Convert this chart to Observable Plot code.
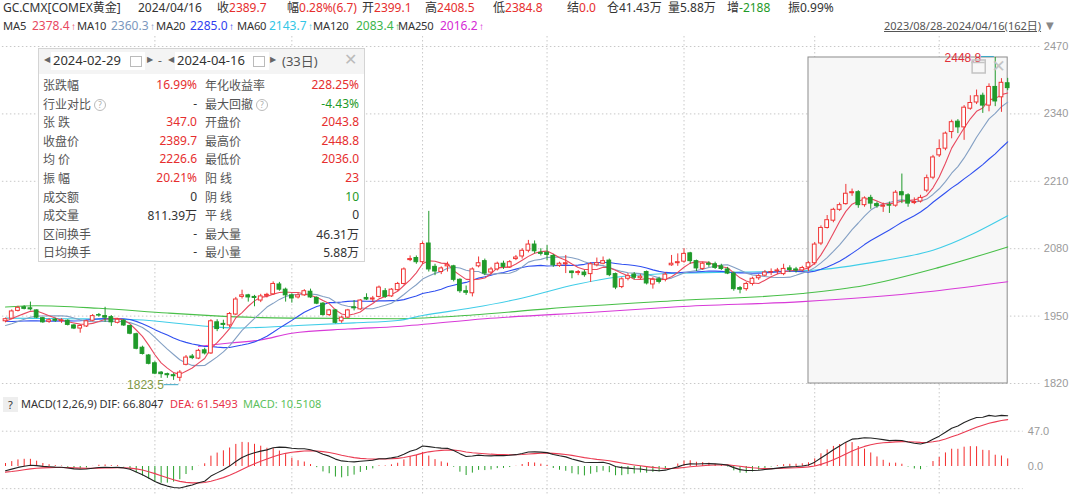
<!DOCTYPE html>
<html><head><meta charset="utf-8">
<script src="https://cdn.jsdelivr.net/npm/d3@7"></script>
<script src="https://cdn.jsdelivr.net/npm/@observablehq/plot@0.6"></script>
<style>
body{margin:0;width:1080px;height:494px;overflow:hidden;background:#fff;font-family:"Noto Sans","Noto Sans CJK SC",sans-serif;font-size:12px;color:#333;position:relative}
.t{position:absolute;white-space:nowrap;line-height:16px}
.ma{font-size:11.2px;letter-spacing:-0.2px}
.r{color:#e62e2e}.g{color:#1e9a28}.k{color:#333}
.up{display:inline-block;width:6px;margin-left:1px;text-align:center;font-size:10px;font-family:"Liberation Sans",sans-serif}
#main,#macd{position:absolute;left:0}
#main{top:36px}#macd{top:392px}
#panel{position:absolute;left:38px;top:48px;width:325px;height:212px;border:1px solid #d4d4d4;background:#fff;font-size:12px}
#panel .lab{position:absolute;color:#555;white-space:nowrap}
#panel .val{position:absolute;text-align:right;white-space:nowrap}
.q{display:inline-block;width:10px;height:10px;border:1px solid #bbb;border-radius:50%;font-size:8px;line-height:10px;text-align:center;color:#aaa;vertical-align:1px;margin-left:3px}
</style></head><body>
<div id="main"></div>
<div id="macd"></div>

<!-- header line 1 -->
<div class="t" style="left:3px;top:0">GC.CMX[COMEX黄金]</div>
<div class="t" style="left:138px;top:0">2024/04/16</div>
<div class="t" style="left:217px;top:0">收<span class="r">2389.7</span></div>
<div class="t" style="left:287px;top:0">幅<span class="r">0.28%(6.7)</span></div>
<div class="t" style="left:362px;top:0">开<span class="r">2399.1</span></div>
<div class="t" style="left:425px;top:0">高<span class="r">2408.5</span></div>
<div class="t" style="left:493px;top:0">低<span class="r">2384.8</span></div>
<div class="t" style="left:567px;top:0">结<span class="r">0.0</span></div>
<div class="t" style="left:607px;top:0">仓41.43万</div>
<div class="t" style="left:668px;top:0">量5.88万</div>
<div class="t" style="left:727px;top:0">增<span class="g">-2188</span></div>
<div class="t" style="left:788px;top:0">振0.99%</div>
<!-- header line 2 -->
<div class="t ma" style="left:3px;top:18px">MA5</div><div class="t" style="left:32px;top:18px;color:#e8495f">2378.4<span class="up">↑</span></div>
<div class="t ma" style="left:77px;top:18px">MA10</div><div class="t" style="left:111px;top:18px;color:#7b97bd">2360.3<span class="up">↑</span></div>
<div class="t ma" style="left:156px;top:18px">MA20</div><div class="t" style="left:190px;top:18px;color:#2f3ff0">2285.0<span class="up">↑</span></div>
<div class="t ma" style="left:237px;top:18px">MA60</div><div class="t" style="left:269px;top:18px;color:#33c6e6">2143.7<span class="up">↑</span></div>
<div class="t ma" style="left:313px;top:18px">MA120</div><div class="t" style="left:356px;top:18px;color:#3cb54a">2083.4<span class="up">↑</span></div>
<div class="t ma" style="left:398px;top:18px">MA250</div><div class="t" style="left:440px;top:18px;color:#d52ad5">2016.2<span class="up">↑</span></div>
<div class="t" style="left:884px;top:18px;color:#555;text-decoration:underline;font-size:11px">2023/08/28-2024/04/16(162日)</div>
<div class="t" style="left:1046px;top:18px;color:#888;font-size:10px;font-family:'DejaVu Sans',sans-serif">▼</div>

<!-- MACD header -->
<div class="t" style="left:3px;top:397px;width:15px;height:15px;line-height:15px;background:#eee;text-align:center;font-size:11px">?</div>
<div class="t" style="left:21px;top:396px;font-size:11px">MACD(12,26,9) DIF: 66.8047</div>
<div class="t" style="left:170px;top:396px;font-size:11px;color:#e8334a">DEA: 61.5493</div>
<div class="t" style="left:243px;top:396px;font-size:11px;color:#5cbf5c">MACD: 10.5108</div>

<!-- stats panel -->
<div id="panel">
  <div style="position:absolute;left:0;top:0;width:325px;height:25px;background:#f4f4f4"></div>
  <div class="lab" style="left:5px;top:6px;color:#666;font-size:8px;font-family:'DejaVu Sans',sans-serif">◀</div>
  <div class="lab" style="left:12px;top:3px;width:94px;height:18px;background:#fff"></div>
  <div class="lab" style="left:14px;top:2px;color:#333;font-size:13px">2024-02-29</div>
  <div class="lab" style="left:91px;top:7px;width:10px;height:9px;border:1px solid #bbb"></div>
  <div class="lab" style="left:108px;top:6px;color:#666;font-size:8px;font-family:'DejaVu Sans',sans-serif">▶</div>
  <div class="lab" style="left:119px;top:3px;color:#666">-</div>
  <div class="lab" style="left:129px;top:6px;color:#666;font-size:8px;font-family:'DejaVu Sans',sans-serif">◀</div>
  <div class="lab" style="left:136px;top:3px;width:94px;height:18px;background:#fff"></div>
  <div class="lab" style="left:138px;top:2px;color:#333;font-size:13px">2024-04-16</div>
  <div class="lab" style="left:214px;top:7px;width:10px;height:9px;border:1px solid #bbb"></div>
  <div class="lab" style="left:231px;top:6px;color:#666;font-size:8px;font-family:'DejaVu Sans',sans-serif">▶</div>
  <div class="lab" style="left:243px;top:2px;color:#555;font-size:13px">(33日)</div>
  <div class="lab" style="left:305px;top:1px;color:#bbb;font-size:16px;font-family:'DejaVu Sans',sans-serif">✕</div>
  <div id="rows"></div>
</div>

<script>
// ---------------- data ----------------
const opens = [
1940,1945,1960,1967,1965,1961,1946,1939,1943,1940,
1941,1932,1926,1930,1941,1952,1950,1948,1937,1941,
1931,1915,1889,1874,1859,1841,1838,1836,1831,1856,
1872,1868,1884,1878,1938,1935,1932,1953,1987,1990,
1987,1980,1989,1992,2011,2001,1990,1986,1990,1997,
1985,1974,1952,1961,1940,1947,1967,1963,1985,1982,
1987,1998,1988,2000,2012,2058,2062,2054,2090,2045,
2035,2046,2046,2020,1998,1994,2046,2056,2034,2040,
2051,2044,2060,2065,2076,2088,2072,2072,2066,2047,
2050,2036,2033,2034,2031,2048,2051,2057,2031,2006,
2022,2030,2023,2035,2011,2021,2020,2048,2052,2055,
2071,2056,2041,2051,2050,2046,2040,2032,2004,2002,
2012,2023,2028,2034,2036,2031,2042,2040,2038,2043.8,
2052,2090,2120,2134,2155,2166,2187,2189,2164,2178,
2166,2161,2164,2163,2189,2183,2168,2171,2192,2217,
2260,2273,2305,2325,2314,2350,2362,2375,2356,2392,
2372,2399.1];
const highs = [
1946,1962,1969,1970,1977,1962,1947,1945,1946,1945,
1943,1934,1933,1942,1953,1955,1967,1951,1945,1943,
1932,1917,1892,1876,1862,1843,1840,1839,1845,1874,
1876,1886,1888,1943,1943,1942,1957,1986,2000,1992,
1990,1992,1994,2016,2015,2004,1993,1994,2001,2002,
1987,1976,1963,1963,1950,1963,1980,1982,1993,1988,
2008,2003,2003,2015,2043,2066,2066,2093,2152,2050,
2045,2054,2048,2022,2008,2043,2064,2060,2044,2054,
2056,2057,2067,2080,2096,2095,2080,2086,2069,2054,
2067,2037,2038,2038,2053,2062,2064,2060,2033,2024,
2032,2034,2030,2037,2024,2025,2034,2067,2070,2080,
2073,2058,2054,2055,2054,2050,2044,2035,2007,2015,
2025,2030,2038,2041,2042,2050,2047,2044,2046,2055,
2092,2124,2144,2158,2168,2204,2195,2192,2180,2183,
2170,2168,2170,2192,2224,2186,2178,2183,2222,2260,
2290,2305,2328,2329,2356,2375,2386,2380,2398,2448.8,
2408,2408.5];
const lows = [
1937,1943,1958,1962,1960,1945,1936,1936,1938,1936,
1931,1924,1917,1928,1939,1948,1938,1930,1935,1930,
1914,1885,1875,1856,1837,1830,1830,1826,1823.5,1854,
1866,1866,1875,1876,1920,1924,1928,1951,1983,1977,
1968,1976,1985,1990,1998,1977,1975,1983,1988,1984,
1972,1950,1949,1935,1936,1945,1960,1961,1980,1976,
1985,1984,1986,1998,2010,2055,2050,2050,2035,2028,
2030,2035,2016,1994,1990,1987,2043,2028,2030,2037,
2040,2042,2057,2060,2072,2070,2066,2057,2044,2044,
2032,2022,2028,2025,2015,2045,2049,2026,2001,2003,
2018,2020,2020,2010,2002,2012,2016,2046,2046,2052,
2050,2036,2038,2044,2040,2038,2030,1998,1993,1998,
2008,2019,2026,2028,2030,2028,2034,2033,2035,2036,
2048,2086,2118,2130,2152,2164,2181,2158,2160,2156,
2158,2150,2148,2160,2167,2160,2165,2168,2188,2213,
2256,2269,2292,2302,2289,2347,2358,2341,2344,2354,
2343,2384.8];
const closes = [
1944,1959,1966,1964,1963,1947,1938,1942,1941,1942,
1933,1926,1931,1940,1950,1951,1947,1938,1943,1932,
1916,1887,1877,1858,1839,1838,1836,1834,1841,1870,
1869,1883,1878,1940,1925,1933,1954,1982,1990,1986,
1985,1988,1991,2012,2001,1990,1984,1990,1998,1986,
1974,1952,1961,1937,1947,1961,1965,1980,1982,1984,
2005,1987,2001,2012,2040,2060,2054,2089,2040,2036,
2042,2049,2020,1998,1995,2040,2052,2032,2040,2051,
2045,2054,2063,2076,2088,2075,2070,2068,2048,2051,
2052,2033,2035,2029,2050,2052,2056,2029,2005,2021,
2027,2024,2026,2013,2020,2016,2030,2051,2054,2070,
2056,2042,2051,2049,2043,2041,2032,2002,2001,2012,
2022,2027,2034,2035,2038,2041,2039,2038,2042.7,2052,
2088,2120,2135,2155,2164,2186,2189,2164,2177,2167,
2162,2163,2163,2188,2183,2167,2170,2178,2216,2256,
2272,2302,2324,2314,2352,2361,2374,2356,2392,2364,
2400,2389.7];
// closes before the window (needed for MA5/10/20 and MACD at the left edge)
const priorCloses = [1965,1960,1955,1952,1950,1946,1944,1940,1936,1932,1928,1922,1918,1925,1927,1935,1938,1942,1941];
// long moving averages
const ma60Idx = [0,10,21,31,37,47,56,63,67,75,82,92,98,108,118,129,141,149,161];
const ma60Val = [1946,1945,1943,1932,1927,1932,1937,1941.5,1951,1966,1982,2012,2025,2032.7,2035,2038,2057,2077,2143.7];
const ma120Idx = [0,5,15,26,33,41,47,63,75,87,108,128,138,150,161];
const ma120Val = [1967.5,1970,1965,1956,1951,1947,1946,1945,1952,1964,1980,1993.5,2009,2044,2083.4];
const ma250Idx = [31,36,41,46,55,63,77,95,108,128,138,149,161];
const ma250Val = [1891.5,1898,1904,1917,1925,1930,1945,1958,1968,1978,1986,1998,2016.2];
const monthStarts = [24,46,67,87,109,130,150];
const priceTicks = [1820,1950,2080,2210,2340,2470];
const macdTicks = [0,47];
const selStart = 129, selEnd = 161;
const statsLeft = [["张跌幅","16.99%","r"],["行业对比?","-","k"],["张 跌","347.0","r"],["收盘价","2389.7","r"],["均 价","2226.6","r"],["振 幅","20.21%","r"],["成交额","0","k"],["成交量","811.39万","k"],["区间换手","-","k"],["日均换手","-","k"]];
const statsRight = [["年化收益率","228.25%","r"],["最大回撤?","-4.43%","g"],["开盘价","2043.8","r"],["最高价","2448.8","r"],["最低价","2036.0","r"],["阳 线","23","r"],["阴 线","10","g"],["平 线","0","k"],["最大量","46.31万","k"],["最小量","5.88万","k"]];

// ---------------- derived ----------------
const RED = "#f03434", GREEN = "#1f9a2a";
const N = closes.length;
const candles = d3.range(N).map(i => ({i, o: opens[i], h: highs[i], l: lows[i], c: closes[i], up: closes[i] >= opens[i]}));
const all = priorCloses.concat(closes), P = priorCloses.length;
const sma = n => d3.range(N).map(i => ({i, v: d3.mean(all.slice(P + i - n + 1, P + i + 1))}));
const pts = (idx, val) => idx.map((i, k) => ({i, v: val[k]}));
function ema(arr, n) { const a = 2 / (n + 1); const out = []; let e = arr[0]; arr.forEach((v, k) => { e = k === 0 ? v : a * v + (1 - a) * e; out.push(e); }); return out; }
const e12 = ema(all, 12), e26 = ema(all, 26);
const difAll = all.map((_, k) => e12[k] - e26[k]);
const deaAll = ema(difAll, 9);
const macd = d3.range(N).map(i => { const dif = difAll[P + i], dea = deaAll[P + i]; return {i, dif, dea, h: 2 * (dif - dea)}; });
const maxIdx = d3.maxIndex(highs), minIdx = d3.minIndex(lows);
const hiPt = {i: maxIdx, v: highs[maxIdx]}, loPt = {i: minIdx, v: lows[minIdx]};
const sel = {x1: selStart, x2: selEnd, top: d3.max(highs.slice(selStart, selEnd + 1))};

const ML = 1.9, MR = 69.7, XD = [-0.5, N - 0.5];
const grid = {stroke: "#c8c8c8", strokeDasharray: "1.5,2.5", strokeWidth: 1};
const FONT = "'Liberation Sans', 'Noto Sans CJK SC', sans-serif";

const mainPlot = Plot.plot({
  width: 1080, height: 356, marginTop: 0, marginBottom: 0, marginLeft: ML, marginRight: MR,
  x: {domain: XD, axis: null},
  y: {domain: [1820, 2470], range: [347, 10], axis: null},
  style: {background: "transparent", overflow: "visible", fontFamily: FONT},
  marks: [
    Plot.ruleY(priceTicks, {y: d => d, x1: XD[0], x2: N + 4.5, ...grid}),
    Plot.ruleX(monthStarts, {x: d => d, ...grid}),
    Plot.rect([sel], {x1: "x1", x2: "x2", y1: 1820, y2: "top", fill: "#f7f7f7", stroke: "#8c8c8c", strokeWidth: 1}),
    Plot.axisY(priceTicks, {anchor: "right", tickSize: 0, tickPadding: 33, textAnchor: "start", fill: "#9a9a9a", fontSize: 11, tickFormat: d => `${d}`}),
    Plot.line(pts(ma250Idx, ma250Val), {x: "i", y: "v", stroke: "#d83ad8", strokeWidth: 1.1, curve: "monotone-x"}),
    Plot.line(pts(ma120Idx, ma120Val), {x: "i", y: "v", stroke: "#48bf48", strokeWidth: 1.1, curve: "monotone-x"}),
    Plot.line(pts(ma60Idx, ma60Val), {x: "i", y: "v", stroke: "#40cde8", strokeWidth: 1.1, curve: "monotone-x"}),
    Plot.line(sma(20), {x: "i", y: "v", stroke: "#2f4ff0", strokeWidth: 1.1}),
    Plot.line(sma(10), {x: "i", y: "v", stroke: "#84a0c4", strokeWidth: 1.1}),
    Plot.line(sma(5), {x: "i", y: "v", stroke: "#e8495f", strokeWidth: 1.1}),
    Plot.ruleX(candles, {x: "i", y1: "l", y2: "h", stroke: d => d.up ? RED : GREEN, strokeWidth: 1}),
    Plot.rect(candles, {x1: d => d.i - 0.3, x2: d => d.i + 0.3, y1: "o", y2: "c", fill: d => d.up ? "#ffffff" : GREEN, stroke: d => d.up ? RED : GREEN, strokeWidth: 1}),
    Plot.text([hiPt], {x: "i", y: "v", text: d => d.v.toFixed(1), dx: -14, dy: 1, textAnchor: "end", fill: "#e0303a", fontSize: 12}),
    Plot.ruleY([hiPt], {y: "v", x1: d => d.i - 2.2, x2: d => d.i - 0.15, dy: -1, stroke: "#3aa6c6", strokeWidth: 1}),
    Plot.text([loPt], {x: "i", y: "v", text: d => d.v.toFixed(1), dx: -16, dy: 3, textAnchor: "end", fill: "#7f9a45", fontSize: 12}),
    Plot.ruleY([loPt], {y: "v", x1: d => d.i - 2.5, x2: d => d.i - 0.15, dy: 3, stroke: "#3aa6c6", strokeWidth: 1}),
    Plot.dot([sel], {x: "x2", y: "top", dx: -29, dy: 9, symbol: "square", r: 7.4, stroke: "#c4c4c4", fill: "none", strokeWidth: 1.5}),
    Plot.ruleY([sel], {y: "top", x1: d => d.x2 - 5.8, x2: d => d.x2 - 3.6, dy: 5, stroke: "#c4c4c4", strokeWidth: 1.5}),
    Plot.text([sel], {x: "x2", y: "top", text: () => "✕", dx: -9, dy: 9, fontSize: 17, fill: "#c4c4c4", fontFamily: "DejaVu Sans"})
  ]
});
document.getElementById("main").append(mainPlot);

const K = 0.751;
const macdPlot = Plot.plot({
  width: 1080, height: 102, marginTop: 0, marginBottom: 0, marginLeft: ML, marginRight: MR,
  x: {domain: XD, axis: null},
  y: {domain: [-30, 100], range: [74 + 30 * K, 74 - 100 * K], axis: null},
  style: {background: "transparent", overflow: "visible", fontFamily: FONT},
  marks: [
    Plot.ruleY([47, -29.5], {y: d => d, x1: XD[0], x2: N + 1.5, ...grid}),
    Plot.ruleX(monthStarts, {x: d => d, ...grid}),
    Plot.axisY(macdTicks, {anchor: "right", tickSize: 0, tickPadding: 17, textAnchor: "start", fill: "#9a9a9a", fontSize: 11, tickFormat: d => d.toFixed(1)}),
    Plot.ruleX(macd, {x: "i", y1: 0, y2: "h", stroke: d => d.h >= 0 ? "#f42a2a" : "#27a02a", strokeWidth: 1}),
    Plot.line(macd, {x: "i", y: "dea", stroke: "#ea3b52", strokeWidth: 1.1}),
    Plot.line(macd, {x: "i", y: "dif", stroke: "#222", strokeWidth: 1.1})
  ]
});
document.getElementById("macd").append(macdPlot);

// stats panel rows
const rows = document.getElementById("rows");
const rowTop = 27, rowH = 18.6;
function lab(txt) { return txt.endsWith("?") ? txt.slice(0, -1) + '<span class="q">?</span>' : txt; }
statsLeft.forEach((r, k) => {
  rows.insertAdjacentHTML("beforeend",
    `<div class="lab" style="left:4px;top:${rowTop + k * rowH}px">${lab(r[0])}</div>` +
    `<div class="val ${r[2]}" style="right:${325 - 158}px;top:${rowTop + k * rowH}px">${r[1]}</div>`);
});
statsRight.forEach((r, k) => {
  rows.insertAdjacentHTML("beforeend",
    `<div class="lab" style="left:166px;top:${rowTop + k * rowH}px">${lab(r[0])}</div>` +
    `<div class="val ${r[2]}" style="right:5px;top:${rowTop + k * rowH}px">${r[1]}</div>`);
});
</script>
</body></html>
